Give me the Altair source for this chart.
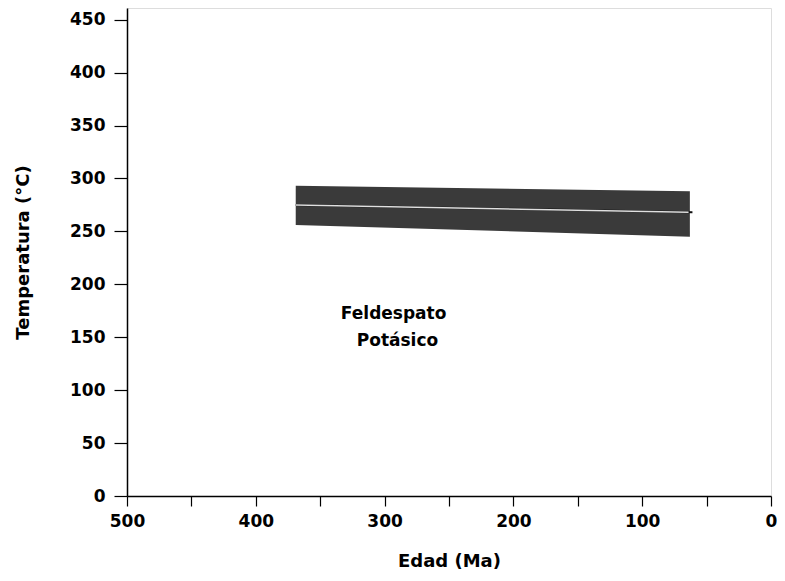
import altair as alt
import pandas as pd

# Band (potassium feldspar closure-temperature envelope)
band_age = [369, 63]          # Ma
band_upper = [293, 288]       # °C
band_lower = [256, 245]       # °C
# central trend line (dark stub beyond the band, light inside it)
mid_age = [369, 61]
mid_temp = [275, 268]
white_age = [369, 64]
white_temp = [275, 268]

label_text = ["Feldespato", "Potásico"]
label_age = [293, 290]
label_temp = [172, 146]

x_ticks = [500, 450, 400, 350, 300, 250, 200, 150, 100, 50, 0]
y_ticks = [0, 50, 100, 150, 200, 250, 300, 350, 400, 450]

FONT = "DejaVu Sans"

band_df = pd.DataFrame({"age": band_age, "upper": band_upper, "lower": band_lower})
mid_df = pd.DataFrame({"age": mid_age, "temp": mid_temp})
white_df = pd.DataFrame({"age": white_age, "temp": white_temp})
lab_df = pd.DataFrame({"text": label_text, "age": label_age, "temp": label_temp})

x_scale = alt.Scale(domain=[500, 0], nice=False, zero=False)
y_scale = alt.Scale(domain=[0, 461], nice=False)

x_axis = alt.Axis(
    title="Edad (Ma)", values=x_ticks,
    labelExpr="datum.value % 100 == 0 ? datum.label : ''",
    grid=False, tickSize=10, labelPadding=7, titlePadding=23,
    labelFont=FONT, labelFontSize=17, labelFontWeight="bold", labelColor="black",
    titleFont=FONT, titleFontSize=18, titleFontWeight="bold", titleColor="black",
    domainColor="black", tickColor="black", domainWidth=1.5, tickWidth=1.2,
    labelFlush=False,
)
y_axis = alt.Axis(
    title="Temperatura (°C)", values=y_ticks,
    grid=False, tickSize=13, labelPadding=9, titlePadding=37,
    labelFont=FONT, labelFontSize=17, labelFontWeight="bold", labelColor="black",
    titleFont=FONT, titleFontSize=18, titleFontWeight="bold", titleColor="black",
    domainColor="black", tickColor="black", domainWidth=1.5, tickWidth=1.2,
)

band = alt.Chart(band_df).mark_area(color="#3a3a3a", opacity=1).encode(
    x=alt.X("age:Q", scale=x_scale, axis=x_axis),
    y=alt.Y("upper:Q", scale=y_scale, axis=y_axis),
    y2="lower:Q",
)

mid_dark = alt.Chart(mid_df).mark_line(color="#111111", strokeWidth=2).encode(
    x=alt.X("age:Q", scale=x_scale),
    y=alt.Y("temp:Q", scale=y_scale),
)

mid_white = alt.Chart(white_df).mark_line(color="#e0e0e0", strokeWidth=1.5).encode(
    x=alt.X("age:Q", scale=x_scale),
    y=alt.Y("temp:Q", scale=y_scale),
)

labels = alt.Chart(lab_df).mark_text(
    font=FONT, fontSize=17, fontWeight="bold", color="black", align="center", baseline="middle"
).encode(
    x=alt.X("age:Q", scale=x_scale),
    y=alt.Y("temp:Q", scale=y_scale),
    text="text:N",
)

chart = alt.layer(band, mid_dark, mid_white, labels).properties(
    width=644, height=488,
    autosize=alt.AutoSizeParams(type="none"),
    padding={"left": 119, "top": 0, "right": 6, "bottom": 73},
).configure_view(stroke=None).configure(background="white")

chart.save("out.html", embed_options={"renderer": "svg", "actions": False})
